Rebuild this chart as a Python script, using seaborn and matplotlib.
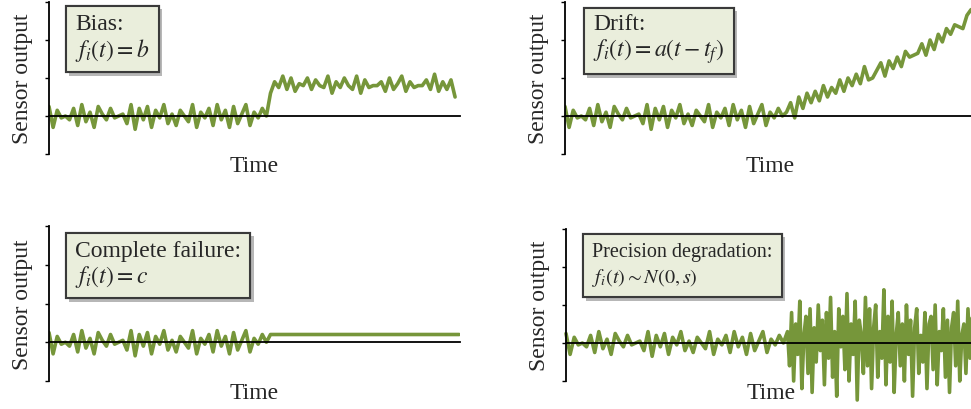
import numpy as np
import matplotlib
matplotlib.use('Agg')
import matplotlib.pyplot as plt
import matplotlib.patheffects as pe
import seaborn as sns

# signal before the fault (looks the same in all four panels)
normal = [0.25, -0.3, 0.15, -0.05, 0.0, -0.1, 0.2, -0.25, 0.3, -0.15,
          0.1, -0.3, 0.25, 0.05, -0.1, 0.2, -0.05, 0.0, 0.05, -0.2,
          0.3, -0.35, 0.2, -0.1, 0.25, -0.3, 0.15, -0.05, 0.3, -0.2,
          0.05, -0.25, 0.15, 0.0, -0.15, 0.3, -0.3, 0.1, -0.05, 0.2,
          -0.25, 0.3, -0.1, 0.15, -0.3, 0.25, -0.2, 0.05, 0.3, -0.25,
          0.1, -0.05, 0.2, 0.0]

bias_after = [0.6, 0.9, 0.75, 1.05, 0.7, 1.0, 0.65, 0.85, 0.8, 1.0,
              0.7, 0.95, 0.8, 0.75, 1.05, 0.6, 0.9, 0.75, 1.0, 0.8,
              0.7, 1.05, 0.6, 0.95, 0.75, 0.8, 0.8, 0.9, 0.65, 1.0,
              0.7, 0.85, 1.05, 0.65, 0.9, 0.75, 0.8, 0.8, 0.95, 0.7,
              1.1, 0.65, 0.9, 0.7, 0.95, 0.5]

drift_after = [0.1, 0.35, -0.05, 0.5, 0.2, 0.6, 0.35, 0.65, 0.4, 0.8,
               0.5, 0.75, 0.6, 0.95, 0.65, 1.0, 0.8, 1.1, 0.85, 1.3,
               0.95, 1.0, 1.2, 1.4, 1.05, 1.45, 1.25, 1.55, 1.3, 1.7,
               1.55, 1.6, 1.65, 1.9, 1.6, 2.0, 1.75, 2.15, 1.95, 2.3,
               2.15, 2.4, 2.35, 2.3, 2.65, 2.8, 2.6, 2.7]

failure_after = [0.2] * 47

degraded_after = [0.3, -0.6, 0.8, -1.0, 0.5, -0.3, 1.1, -1.2, 0.2, 0.7,
                  -0.8, 0.9, -1.3, 0.4, -0.5, 1.0, -0.2, 0.6, -1.1, 0.8,
                  -0.4, 1.2, -0.9, 0.3, -1.4, 0.9, -0.1, 0.7, -0.7, 1.3,
                  -1.0, 0.5, -0.3, 1.1, -1.5, 0.6, 0.2, -0.8, 1.2, -0.6,
                  0.9, -1.2, 0.4, 1.0, -0.9, 0.3, -0.4, 1.4, -1.1, 0.7,
                  -0.5, 1.1, -1.3, 0.2, 0.8, -0.6, 0.5, -1.0, 1.0, -0.3,
                  0.6, -1.4, 0.4, 0.9, -0.8, 0.2, -0.5, 0.8, -1.2, 0.5,
                  0.7, -0.7, 1.0, -1.1, 0.3, -0.2, 0.9, -0.9, 0.6, -1.3,
                  0.4, 0.8, -0.6, 1.1, -1.0, 0.2, 0.5, -0.8, 0.9, -0.4,
                  0.7, -1.1, 0.6, -0.3]

labels = ['Bias:\n$f_i(t) = b$',
          'Drift:\n$f_i(t) = a(t - t_f)$',
          'Complete failure:\n$f_i(t) = c$',
          'Precision degradation:\n$f_i(t) \\sim N(\\mathit{0},s)$']
label_size = [17, 17, 17, 14.5]

sns.set_style('white')
plt.rcParams['font.family'] = ['Liberation Serif', 'DejaVu Serif']
plt.rcParams['mathtext.fontset'] = 'stix'

green = '#76963a'
W, H = 971, 410
fig = plt.figure(figsize=(W / 100, H / 100), dpi=100)

# axes boxes in pixels: left, right, top, bottom
boxes = [(49, 460, 3, 155), (565, 976, 3, 155),
         (49, 460, 227, 382), (566, 977, 230, 382)]
# text box corner (left, top) in pixels
tpos = [(75, 14), (593, 14), (75, 241), (592, 243)]

n0 = len(normal)
series = []
series.append((np.arange(n0 + len(bias_after)), normal + bias_after))
series.append((np.arange(n0 + len(drift_after)), normal + drift_after))
series.append((np.arange(n0 + len(failure_after)), normal + failure_after))
xd = np.concatenate([np.arange(n0), n0 + 0.5 * np.arange(len(degraded_after))])
series.append((xd, normal + degraded_after))

for k in range(4):
    l, r, t, b = boxes[k]
    ax = fig.add_axes([l / W, 1 - b / H, (r - l) / W, (b - t) / H])
    x, y = series[k]
    sns.lineplot(x=x, y=y, ax=ax, color=green, lw=2.6, clip_on=(k != 3))
    ax.set_xlim(0, 100.2)
    ax.set_ylim(-1, 3)
    for s in ['top', 'right']:
        ax.spines[s].set_visible(False)
    ax.spines['bottom'].set_position(('data', 0))
    ax.spines['bottom'].set_linewidth(1.3)
    ax.spines['bottom'].set_color('black')
    ax.spines['left'].set_linewidth(1.3)
    ax.spines['left'].set_color('black')
    ax.spines['bottom'].set_zorder(3)
    ax.set_xticks(np.arange(1, 7) * 16.7)
    ax.set_yticks([-1, 0, 1, 2, 3])
    ax.set_xticklabels([])
    ax.set_yticklabels([])
    ax.tick_params(axis='x', length=2.5, width=1, color='#555555', direction='out')
    ax.tick_params(axis='y', length=3, width=1, color='black', direction='out', left=True)
    ax.text(0.5, -0.005, 'Time', transform=ax.transAxes, ha='center', va='top', fontsize=17)
    ax.set_ylabel('Sensor output', fontsize=17, labelpad=5)

    tx, ty = tpos[k]
    fs = label_size[k]
    txt = fig.text(tx / W, 1 - ty / H, labels[k], ha='left', va='top', fontsize=fs,
                   linespacing=1.1 * 17 / fs,
                   bbox=dict(boxstyle='square,pad=%.2f' % (0.4 * 17 / fs),
                             fc='#eaeedc', ec='#3a3a3a', lw=1.5))
    txt.get_bbox_patch().set_path_effects([
        pe.withSimplePatchShadow(offset=(2.5, -2.5), shadow_rgbFace='#888888', alpha=0.6),
        pe.Normal()])

fig.savefig('out.png', dpi=100)
